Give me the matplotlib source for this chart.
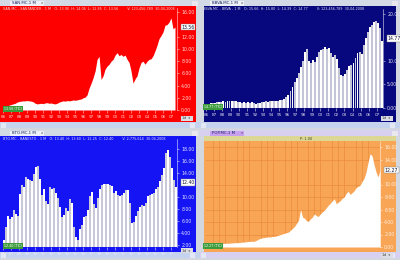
import matplotlib
matplotlib.use('Agg')
import matplotlib.pyplot as plt
import matplotlib.transforms as mtransforms
from matplotlib.ticker import MultipleLocator
import numpy as np

# ---------------- data ----------------
year_labels = ['86', '87', '88', '89', '90', '91', '92', '93', '94', '95', '96',
               '97', '98', '99', '00', '01', '02', '03', '04', '05', '06', '07']

san = [0.45, 0.55, 0.65, 0.8, 0.9, 1.0, 1.1, 1.3, 1.4, 1.45, 1.5, 1.5, 1.55, 1.5, 1.45,
       1.35, 1.1, 1.0, 1.05, 1.1, 1.05, 1.15, 1.2, 1.1, 1.15, 1.05, 1.0, 1.1, 1.3, 1.4,
       1.5, 1.45, 1.55, 1.5, 1.55, 1.65, 1.6, 1.65, 1.75, 1.8, 2.0, 2.1, 2.5, 3.6, 4.4,
       5.3, 6.4, 8.3, 8.8, 5.0, 5.6, 6.7, 7.2, 7.5, 8.0, 8.3, 9.0, 9.4, 8.9, 9.1, 8.8,
       9.0, 8.3, 7.8, 6.4, 4.4, 5.1, 5.6, 6.9, 7.8, 8.0, 7.5, 8.0, 8.3, 8.4, 8.9, 9.7,
       10.6, 11.7, 12.2, 12.8, 13.9, 14.0, 14.4, 15.1, 13.3, 13.6]

bbva = [0.9, 0.9, 1.0, 1.0, 1.1, 1.2, 1.2, 1.3, 1.4, 1.3, 1.4, 1.4, 1.5, 1.5, 1.4, 1.3,
        1.2, 1.1, 1.2, 1.1, 1.2, 1.1, 1.2, 1.0, 0.9, 1.0, 1.0, 1.2, 1.3, 1.4, 1.3, 1.4,
        1.4, 1.5, 1.4, 1.5, 1.6, 1.7, 1.9, 2.3, 2.8, 3.5, 4.4, 5.5, 6.4, 7.5, 8.7, 10.0,
        11.8, 12.5, 10.0, 9.5, 10.1, 9.8, 10.8, 11.8, 12.2, 12.6, 13.0, 12.4, 12.8, 11.6,
        10.9, 11.2, 10.3, 8.4, 7.0, 6.7, 7.3, 8.0, 8.9, 9.2, 9.5, 10.6, 11.6, 11.9, 11.5,
        13.3, 14.8, 16.0, 17.2, 17.6, 18.2, 18.4, 18.0, 17.0, 14.2, 14.77]

bto = [2.8, 5.0, 6.8, 6.4, 6.6, 7.8, 7.2, 6.8, 10.5, 12.0, 11.6, 13.4, 13.0, 12.8, 12.6,
       13.9, 15.0, 15.2, 13.0, 10.4, 11.4, 9.4, 8.8, 11.6, 11.4, 11.5, 10.6, 9.8, 8.4,
       6.6, 7.0, 8.2, 7.6, 9.6, 9.0, 5.0, 3.4, 2.9, 4.6, 5.3, 6.6, 6.8, 7.8, 10.2, 10.8,
       8.8, 8.2, 9.8, 11.4, 12.0, 12.1, 12.2, 12.1, 12.0, 11.8, 10.6, 11.0, 10.3, 10.1,
       10.4, 10.6, 11.2, 11.2, 9.0, 5.6, 5.8, 6.8, 7.6, 8.4, 8.7, 8.5, 9.0, 10.1, 10.4,
       10.5, 10.6, 11.4, 11.6, 12.6, 13.6, 14.8, 17.3, 17.8, 16.6, 14.8, 12.8, 11.6, 12.4]

pop = [0.5, 0.5, 0.55, 0.55, 0.6, 0.6, 0.6, 0.6, 0.55, 0.6, 0.6, 0.6, 0.65, 0.65, 0.7,
       0.7, 0.7, 0.75, 0.8, 0.8, 0.85, 0.9, 0.9, 0.9, 0.95, 1.1, 1.3, 1.4, 1.5, 1.5, 1.6,
       1.6, 1.6, 1.7, 1.7, 1.8, 1.9, 2.0, 2.1, 2.2, 2.3, 2.4, 2.7, 3.0, 3.3, 3.8, 4.3,
       6.0, 4.8, 4.6, 4.2, 4.1, 4.5, 4.8, 5.3, 5.0, 4.9, 5.3, 5.6, 5.9, 6.3, 6.7, 7.0,
       7.4, 7.7, 6.9, 7.2, 7.4, 7.8, 8.0, 8.6, 8.9, 8.4, 8.7, 9.0, 9.5, 9.7, 9.9, 10.5,
       11.0, 12.0, 13.6, 14.9, 14.6, 13.2, 12.0, 11.2, 12.3]

san_ticks = [0, 2, 4, 6, 8, 10, 12, 16]
bbva_ticks = [0, 5, 10, 20]
bto_ticks = [2, 4, 6, 8, 10, 14, 16, 18]
pop_ticks = [0, 2, 4, 6, 8, 10, 14, 16]

san_last, bbva_last, bto_last, pop_last = '13.56', '14.77', '12.40', '12.27'

# ---------------- layout helpers ----------------
W, H = 400, 260
fig = plt.figure(figsize=(4, 2.6), dpi=100)
fig.patch.set_facecolor('#d3d7e0')


def R(x0, y0, x1, y1):
    return [x0 / W, 1 - y1 / H, (x1 - x0) / W, (y1 - y0) / H]


def box(x0, y0, x1, y1, color, z=0):
    ax = fig.add_axes(R(x0, y0, x1, y1))
    ax.set_facecolor(color)
    ax.set_xticks([])
    ax.set_yticks([])
    for s in ax.spines.values():
        s.set_visible(False)
    ax.set_zorder(z)
    return ax


def ftext(x, y, s, **kw):
    kw.setdefault('fontsize', 3)
    kw.setdefault('va', 'center')
    fig.text(x / W, 1 - y / H, s, **kw)


years_x = np.arange(1986, 2008)


def panel(ox, oy, bg, txtcol, tabbar, tabcol, tabtxt, scroll, header, green_txt,
          dat_rect, ylim, ticks, values, last, kind, barcols=None, grid=None, smallbox_y=116):
    # tab bar
    box(ox, oy, ox + 200, oy + 6, tabbar, z=1)
    box(ox + 10, oy + 0.5, ox + 44, oy + 6, tabcol, z=2)
    ftext(ox + 12, oy + 3.3, tabtxt, color='#10205a', fontsize=2.8, zorder=5)
    ftext(ox + 40.5, oy + 3.3, 'x', color='#505050', fontsize=2.8, zorder=5)
    box(ox + 192, oy + 1, ox + 198, oy + 5.5, '#e8e8ee', z=2)
    # chart background
    bgx0 = ox + (4 if ox > 0 else 0)
    box(bgx0, oy + 6, ox + 196, oy + 122, bg, z=1)
    # scrollbar
    box(ox, oy + 122, ox + 200, oy + 128, scroll, z=1)
    box(ox + 1, oy + 122.5, ox + 6, oy + 127.5, '#e4e8f4', z=2)
    box(ox + 190, oy + 122.5, ox + 195, oy + 127.5, '#e4e8f4', z=2)
    # data axes
    x0, y0, x1, y1 = dat_rect
    ax = fig.add_axes(R(ox + x0, oy + y0, ox + x1, oy + y1))
    ax.set_zorder(3)
    ax.patch.set_alpha(0)
    xs = 1986 + 0.25 * np.arange(len(values))
    if kind == 'area':
        ax.fill_between(xs, 0, values, color='white', lw=0, zorder=3)
    else:
        cols = [barcols[i % 2] for i in range(len(values))]
        ax.bar(xs, values, width=0.235, color=cols, lw=0, zorder=3, align='edge')
    ax.set_xlim(1985.85, 2007.75)
    ax.set_ylim(*ylim)
    for s in ['top', 'left', 'bottom']:
        ax.spines[s].set_visible(False)
    ax.spines['right'].set_color(txtcol)
    ax.spines['right'].set_linewidth(0.4)
    ax.yaxis.tick_right()
    ax.set_yticks(ticks)
    ax.set_yticklabels(['%.2f' % t for t in ticks])
    ax.tick_params(axis='y', colors=txtcol, labelsize=3.3, length=1.5, width=0.4, pad=1.5)
    ax.set_xticks(years_x)
    ax.set_xticklabels(year_labels)
    ax.tick_params(axis='x', colors=txtcol, labelsize=3.0, length=2, width=0.4, pad=1.5)
    if grid:
        ax.xaxis.set_minor_locator(MultipleLocator(0.75))
        ax.grid(True, which='minor', axis='x', color=grid, lw=0.5, zorder=0)
        ax.grid(True, which='major', axis='y', color=grid, lw=0.5, zorder=0)
        ax.tick_params(axis='x', which='minor', length=0)
        ax.tick_params(axis='x', which='major', labelbottom=False, length=0)
        ax.set_axisbelow(True)
    # last value box
    trans = mtransforms.blended_transform_factory(ax.transAxes, ax.transData)
    ax.text(1.025, float(values[-1]), last, transform=trans, fontsize=3.3,
            color='#101030', va='center', ha='left',
            bbox=dict(fc='white', ec='#808080', lw=0.3, pad=0.6), zorder=6, clip_on=False)
    # header text
    if header:
        ftext(ox + 3, oy + 8.5, header, color=txtcol, fontsize=2.4, zorder=6)
    # green label box
    box(ox + 3, oy + y1 - 4, ox + 23, oy + y1 + 1.5, '#3c9c3c', z=4)
    ftext(ox + 4.5, oy + y1 - 1.2, green_txt, color='white', fontsize=2.3, zorder=7)
    # right-bottom small box
    box(ox + 181, oy + smallbox_y, ox + 193, oy + smallbox_y + 5, '#dcdce4', z=4)
    ftext(ox + 182, oy + smallbox_y + 2.5, '1d  \u25be', color='#303030', fontsize=2.4, zorder=7)
    return ax


panel(0, 0, '#ff0000', '#ffd6d6', '#d4d9e6', '#eef0f8', 'SAN.MC,1 M', '#c6d3ef',
      'SAN.MC - SANTANDER - 1 M   O: 13.90  H: 14.06  L: 12.85  C: 13.56        V: 123,456,789  30-04-2008',
      '13.56 (TIC)', (2, 8, 177, 110), (0, 102 / 6.1), san_ticks, san, san_last, 'area')

panel(200, 0, '#08087e', '#e0e0f0', '#d4d9e6', '#eef0f8', 'BBVA.MC,1 M', '#c6d3ef',
      'BBVA.MC - BBVA - 1 M   O: 15.66  H: 15.80  L: 14.39  C: 14.77        V: 123,456,789  30-04-2008',
      '14.77 (TIC)', (5, 9, 183, 108), (0, 99 / 4.72), bbva_ticks, bbva, bbva_last, 'bar',
      barcols=['#ffffff', '#c4c6d8'])

panel(0, 130, '#1414f4', '#e4e4ff', '#d4d9e6', '#eef0f8', 'BTO.MC,1 M', '#c6d3ef',
      'BTO.MC - BANESTO - 1 M   O: 13.40  H: 13.60  L: 12.25  C: 12.40        V: 2,775,614  30-04-2008',
      '12.40 (TIC)', (2, 9, 177, 117), (2 - 2 / 6, 2 + 106 / 6), bto_ticks, bto, bto_last, 'bar',
      barcols=['#ffffff', '#c8c8d8'], smallbox_y=118)

panel(200, 130, '#f9a556', '#fff0e0', '#d8d0f0', '#c8a0f0', 'POP.MC,1 M', '#d8d0f0',
      None, '12.27 (TIC)', (6, 11, 180, 117), (0, 106 / 6.25), pop_ticks, pop, pop_last,
      'area', grid='#e88c3c', smallbox_y=123)
# olive header strip for the orange panel
box(204, 136, 396, 141, '#dcd894', z=2)
ftext(300, 138.5, 'P: 1.00', color='#404020', fontsize=2.5, zorder=6)

fig.savefig('out.png', dpi=100, facecolor=fig.get_facecolor())
